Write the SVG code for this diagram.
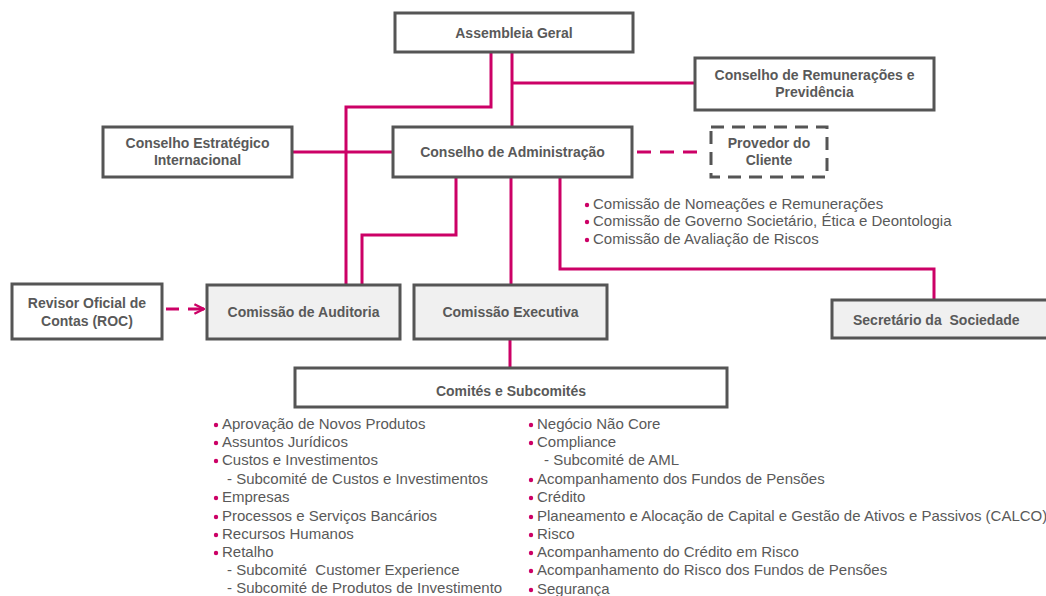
<svg xmlns="http://www.w3.org/2000/svg" width="1046" height="596" viewBox="0 0 1046 596">
<defs>
<style>
.box{fill:#ffffff;stroke:#555555;stroke-width:3}
.gbox{fill:#f0f0f0;stroke:#555555;stroke-width:3}
.dbox{fill:#ffffff;stroke:#555555;stroke-width:3;stroke-dasharray:13 8}
.lbl{font-family:"Liberation Sans",Arial,sans-serif;font-size:14px;font-weight:bold;fill:#595959;text-anchor:middle;white-space:pre}
.li{font-family:"Liberation Sans",Arial,sans-serif;font-size:15px;fill:#595959;white-space:pre}
.con{fill:none;stroke:#cc0066;stroke-width:3}
.dash{fill:none;stroke:#cc0066;stroke-width:3;stroke-dasharray:14 9}
.dot{fill:#cc0066}
</style>
<marker id="arr" viewBox="0 0 10 10" refX="9" refY="5" markerWidth="4" markerHeight="5" orient="auto" markerUnits="strokeWidth">
<path d="M1,1 L9,5 L1,9" fill="none" stroke="#cc0066" stroke-width="2"/>
</marker>
</defs>
<rect width="1046" height="596" fill="#ffffff"/>
<g id="connectors">
<path class="con" d="M491,52 V107 H346 V285"/>
<path class="con" d="M512,52 V127"/>
<path class="con" d="M512,83 H695"/>
<path class="con" d="M292,152 H393"/>
<path class="con" d="M456,177 V235 H362 V285"/>
<path class="con" d="M511,177 V285"/>
<path class="con" d="M560,177 V269 H934 V300"/>
<path class="con" d="M510,339 V368"/>
<path class="dash" d="M637,152 H706"/>
<path class="con" d="M166,309 H179"/>
<path class="con" d="M188,309 H204" marker-end="url(#arr)"/>
</g>
<g id="assembleia">
<rect class="box" x="395" y="13" width="238" height="39"/>
<text class="lbl" x="514" y="38">Assembleia Geral</text>
</g>
<g id="remuneracoes">
<rect class="box" x="695" y="58" width="239" height="52"/>
<text class="lbl" x="814.5" y="80">Conselho de Remunerações e</text>
<text class="lbl" x="814.5" y="97">Previdência</text>
</g>
<g id="estrategico">
<rect class="box" x="103" y="127" width="189" height="50"/>
<text class="lbl" x="197.5" y="148">Conselho Estratégico</text>
<text class="lbl" x="197.5" y="165">Internacional</text>
</g>
<g id="administracao">
<rect class="box" x="393" y="127" width="239" height="50"/>
<text class="lbl" x="512.5" y="157">Conselho de Administração</text>
</g>
<g id="provedor">
<rect class="dbox" x="711" y="127" width="116" height="50"/>
<text class="lbl" x="769" y="148">Provedor do</text>
<text class="lbl" x="769" y="165">Cliente</text>
</g>
<g id="comissoes-ca">
<circle class="dot" cx="587" cy="205" r="2.2"/>
<circle class="dot" cx="587" cy="222" r="2.2"/>
<circle class="dot" cx="587" cy="240" r="2.2"/>
<text class="li" x="593" y="209">Comissão de Nomeações e Remunerações</text>
<text class="li" x="593" y="226">Comissão de Governo Societário, Ética e Deontologia</text>
<text class="li" x="593" y="244">Comissão de Avaliação de Riscos</text>
</g>
<g id="revisor">
<rect class="box" x="12" y="284" width="150" height="55"/>
<text class="lbl" x="87" y="308">Revisor Oficial de</text>
<text class="lbl" x="87" y="326">Contas (ROC)</text>
</g>
<g id="auditoria">
<rect class="gbox" x="207" y="285" width="193" height="54"/>
<text class="lbl" x="303.5" y="317">Comissão de Auditoria</text>
</g>
<g id="executiva">
<rect class="gbox" x="414" y="285" width="193" height="54"/>
<text class="lbl" x="510.5" y="317">Comissão Executiva</text>
</g>
<g id="secretario">
<rect class="gbox" x="832" y="300" width="220" height="38"/>
<text class="lbl" x="853" y="325" style="text-anchor:start">Secretário da  Sociedade</text>
</g>
<g id="comites">
<rect class="box" x="295" y="368" width="432" height="39"/>
<text class="lbl" x="511" y="396">Comités e Subcomités</text>
</g>
<g id="lista-esquerda">
<circle class="dot" cx="216" cy="425" r="2.2"/>
<circle class="dot" cx="216" cy="443" r="2.2"/>
<circle class="dot" cx="216" cy="461" r="2.2"/>
<circle class="dot" cx="216" cy="498" r="2.2"/>
<circle class="dot" cx="216" cy="517" r="2.2"/>
<circle class="dot" cx="216" cy="535" r="2.2"/>
<circle class="dot" cx="216" cy="553" r="2.2"/>
<text class="li" x="222" y="429">Aprovação de Novos Produtos</text>
<text class="li" x="222" y="447">Assuntos Jurídicos</text>
<text class="li" x="222" y="465">Custos e Investimentos</text>
<text class="li" x="227" y="484">- Subcomité de Custos e Investimentos</text>
<text class="li" x="222" y="502">Empresas</text>
<text class="li" x="222" y="521">Processos e Serviços Bancários</text>
<text class="li" x="222" y="539">Recursos Humanos</text>
<text class="li" x="222" y="557">Retalho</text>
<text class="li" x="227" y="575">- Subcomité  Customer Experience</text>
<text class="li" x="227" y="593">- Subcomité de Produtos de Investimento</text>
</g>
<g id="lista-direita">
<circle class="dot" cx="531" cy="425" r="2.2"/>
<circle class="dot" cx="531" cy="443" r="2.2"/>
<circle class="dot" cx="531" cy="480" r="2.2"/>
<circle class="dot" cx="531" cy="498" r="2.2"/>
<circle class="dot" cx="531" cy="517" r="2.2"/>
<circle class="dot" cx="531" cy="535" r="2.2"/>
<circle class="dot" cx="531" cy="553" r="2.2"/>
<circle class="dot" cx="531" cy="571" r="2.2"/>
<circle class="dot" cx="531" cy="590" r="2.2"/>
<text class="li" x="537" y="429">Negócio Não Core</text>
<text class="li" x="537" y="447">Compliance</text>
<text class="li" x="544" y="465">- Subcomité de AML</text>
<text class="li" x="537" y="484">Acompanhamento dos Fundos de Pensões</text>
<text class="li" x="537" y="502">Crédito</text>
<text class="li" x="537" y="521">Planeamento e Alocação de Capital e Gestão de Ativos e Passivos (CALCO)</text>
<text class="li" x="537" y="539">Risco</text>
<text class="li" x="537" y="557">Acompanhamento do Crédito em Risco</text>
<text class="li" x="537" y="575">Acompanhamento do Risco dos Fundos de Pensões</text>
<text class="li" x="537" y="594">Segurança</text>
</g>
</svg>
